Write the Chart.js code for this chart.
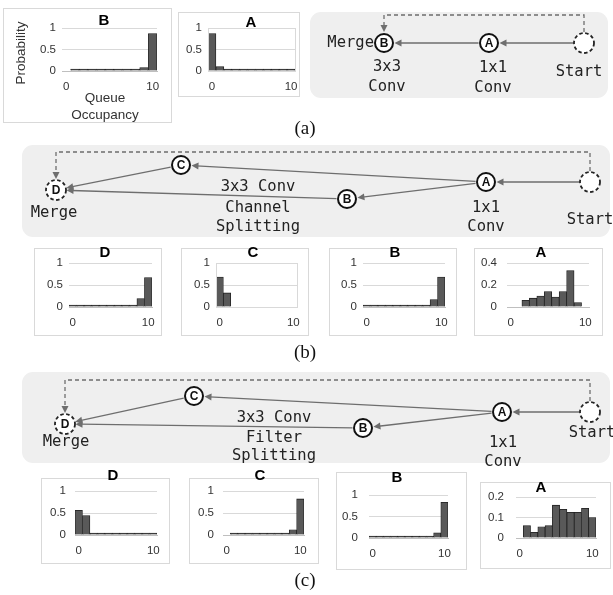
<!DOCTYPE html>
<html>
<head>
<meta charset="utf-8">
<script src="https://cdn.jsdelivr.net/npm/chart.js@4.4.1/dist/chart.umd.min.js"></script>
<style>
  body { margin: 0; background: #fff; }
  #fig { position: relative; width: 613px; height: 595px; overflow: hidden; background: #fff; }
  .box { position: absolute; border: 1px solid #d9d9d9; box-sizing: border-box; background: #fff; }
  .flow { position: absolute; background: #efefef; border-radius: 11px; }
  canvas { position: absolute; }
  .cap { position: absolute; font-family: "Liberation Serif", serif; font-size: 19px; color: #111;
         transform: translate(-50%, -50%); }
</style>
</head>
<body>
<div id="fig"></div>
<script>
// queue occupancy bins (x tick labels)
const bins = ['0', '1', '2', '3', '4', '5', '6', '7', '8', '9', '10'];

// probability per bin (null = empty bin)
const a_B = [null, 0.006, 0.006, 0.006, 0.006, 0.006, 0.006, 0.006, 0.006, 0.08, 0.87];
const a_A = [0.87, 0.10, 0.02, 0.003, 0.003, 0.003, 0.003, 0.003, 0.003, 0.003, 0.003];
const b_D = [0.005, 0.02, 0.02, 0.02, 0.005, 0.02, 0.02, 0.02, 0.02, 0.19, 0.67];
const b_C = [0.68, 0.32, null, null, null, null, null, null, null, null, null];
const b_B = [0.01, 0.015, 0.015, 0.015, 0.015, 0.015, 0.015, 0.015, 0.015, 0.17, 0.68];
const b_A = [null, null, 0.06, 0.08, 0.10, 0.14, 0.09, 0.14, 0.33, 0.04, null];
const c_D = [0.56, 0.44, 0.03, 0.003, 0.003, 0.003, 0.003, 0.003, 0.003, 0.003, 0.003];
const c_C = [null, 0.02, 0.02, 0.02, 0.02, 0.02, 0.02, 0.02, 0.02, 0.12, 0.82];
const c_B = [0.01, 0.01, 0.01, 0.01, 0.01, 0.01, 0.01, 0.01, 0.01, 0.12, 0.83];
const c_A = [null, 0.06, 0.028, 0.055, 0.06, 0.16, 0.14, 0.125, 0.125, 0.145, 0.10];

const fig = document.getElementById('fig');
const E = 8;

// text drawn in page coordinates
const panelText = {
  id: 'panelText',
  afterDraw(chart, args, opts) {
    const ctx = chart.ctx;
    (opts.items || []).forEach(it => {
      ctx.save();
      ctx.font = it.font;
      ctx.fillStyle = it.color || '#000';
      ctx.textAlign = it.align || 'center';
      ctx.textBaseline = 'middle';
      ctx.translate(it.x - opts.ox, it.y - opts.oy);
      if (it.rot) ctx.rotate(it.rot * Math.PI / 180);
      ctx.fillText(it.text, 0, 0);
      ctx.restore();
    });
  }
};

const plotFrame = {
  id: 'plotFrame',
  afterDraw(chart, args, opts) {
    if (!opts.on) return;
    const a = chart.chartArea, ctx = chart.ctx;
    ctx.save();
    ctx.strokeStyle = '#d9d9d9';
    ctx.lineWidth = 1;
    ctx.strokeRect(Math.round(a.left) + 0.5, Math.round(a.top) + 0.5, Math.round(a.right - a.left), Math.round(a.bottom - a.top));
    ctx.restore();
  }
};

function addCanvas(l, t, w, h) {
  const c = document.createElement('canvas');
  c.width = w; c.height = h;
  c.style.left = l + 'px'; c.style.top = t + 'px';
  c.style.width = w + 'px'; c.style.height = h + 'px';
  fig.appendChild(c);
  return c;
}

function histo(p) {
  const [bl, bt, bw, bh] = p.box;
  const d = document.createElement('div');
  d.className = 'box';
  Object.assign(d.style, { left: bl + 'px', top: bt + 'px', width: bw + 'px', height: bh + 'px' });
  fig.appendChild(d);

  const cl = bl - E, ct = bt - E, cw = bw + 2 * E, ch = bh + 2 * E;
  const c = addCanvas(cl, ct, cw, ch);
  const [L, T, R, B] = p.area;
  const YW = 40, XH = 24;
  const items = [{ text: p.title[0], x: p.title[1], y: p.title[2], font: 'bold 15px "Liberation Sans"' }];
  (p.extra || []).forEach(e => items.push({ text: e[0], x: e[1], y: e[2], rot: e[3] || 0,
    font: '13.5px "Liberation Sans"', color: '#333' }));

  new Chart(c, {
    type: 'bar',
    data: {
      labels: bins,
      datasets: [{
        data: p.data,
        backgroundColor: '#595959',
        borderColor: '#1e1e1e',
        borderWidth: 0.8,
        barPercentage: 1,
        categoryPercentage: 1,
        minBarLength: 2
      }]
    },
    options: {
      responsive: false,
      animation: false,
      events: [],
      layout: { padding: { left: L - cl - YW, top: T - ct, right: cl + cw - R, bottom: ct + ch - B - XH } },
      plugins: {
        legend: { display: false },
        tooltip: { enabled: false },
        panelText: { items: items, ox: cl, oy: ct },
        plotFrame: { on: !!p.frame }
      },
      scales: {
        x: {
          grid: { display: false, drawTicks: false },
          border: { display: true, color: '#bfbfbf' },
          ticks: {
            autoSkip: false, maxRotation: 0, padding: 9, color: '#333',
            font: { family: '"Liberation Sans"', size: 11.5 },
            callback: (v, i) => (i === 0 || i === bins.length - 1) ? bins[i] : ''
          },
          afterFit: s => { s.height = XH; }
        },
        y: {
          min: 0, max: p.yMax,
          grid: { color: g => g.tick.value === 0 ? 'rgba(0,0,0,0)' : '#d9d9d9', drawTicks: false },
          border: { display: false },
          ticks: {
            stepSize: p.step, padding: p.gap, color: '#333',
            font: { family: '"Liberation Sans"', size: 11.5 },
            callback: v => String(Math.round(v * 100) / 100)
          },
          afterFit: s => { s.width = YW; }
        }
      }
    },
    plugins: [panelText, plotFrame]
  });
}

const panels = [
  { data: a_B, box: [3, 8, 169, 115], area: [62, 28, 157, 71], yMax: 1, step: 0.5, gap: 6, title: ['B', 104, 21],
    extra: [['Probability', 21, 53, -90], ['Queue', 105, 98], ['Occupancy', 105, 115]] },
  { data: a_A, box: [178, 12, 122, 85], area: [208, 28, 295, 71], yMax: 1, step: 0.5, gap: 6, title: ['A', 251, 23], frame: true },
  { data: b_D, box: [34, 248, 128, 88], area: [69, 263, 152, 307], yMax: 1, step: 0.5, gap: 6, title: ['D', 105, 253] },
  { data: b_C, box: [181, 248, 128, 88], area: [216, 263, 297, 307], yMax: 1, step: 0.5, gap: 6, title: ['C', 253, 253], frame: true },
  { data: b_B, box: [329, 248, 128, 88], area: [363, 263, 445, 307], yMax: 1, step: 0.5, gap: 6, title: ['B', 395, 253] },
  { data: b_A, box: [474, 248, 129, 88], area: [507, 263, 589, 307], yMax: 0.4, step: 0.2, gap: 10, title: ['A', 541, 253] },
  { data: c_D, box: [41, 478, 129, 86], area: [75, 491, 157, 535], yMax: 1, step: 0.5, gap: 9, title: ['D', 113, 476] },
  { data: c_C, box: [189, 478, 130, 86], area: [223, 491, 304, 535], yMax: 1, step: 0.5, gap: 9, title: ['C', 260, 476] },
  { data: c_B, box: [336, 472, 131, 98], area: [369, 495, 448, 538], yMax: 1, step: 0.5, gap: 11, title: ['B', 397, 478] },
  { data: c_A, box: [480, 482, 131, 87], area: [516, 497, 596, 538], yMax: 0.2, step: 0.1, gap: 12, title: ['A', 541, 488] }
];
panels.forEach(histo);

// ---- flow graphs ----
const EDGE = '#6e6e6e';
const flowDraw = {
  id: 'flowDraw',
  beforeDatasetsDraw(chart, args, f) {
    const ctx = chart.ctx, sx = chart.scales.x, sy = chart.scales.y;
    const P = k => [sx.getPixelForValue(f.nodes[k][0]), sy.getPixelForValue(f.nodes[k][1])];
    ctx.save();
    ctx.strokeStyle = EDGE; ctx.fillStyle = EDGE; ctx.lineWidth = 1.3;
    f.edges.forEach(([a, b]) => {
      const [x1, y1] = P(a), [x2, y2] = P(b);
      const dx = x2 - x1, dy = y2 - y1, len = Math.hypot(dx, dy), ux = dx / len, uy = dy / len;
      const r = 10.5, ah = 7, aw = 3.5;
      const ex = x2 - ux * r, ey = y2 - uy * r;
      ctx.beginPath();
      ctx.moveTo(x1 + ux * r, y1 + uy * r);
      ctx.lineTo(ex - ux * ah * 0.7, ey - uy * ah * 0.7);
      ctx.stroke();
      ctx.beginPath();
      ctx.moveTo(ex, ey);
      ctx.lineTo(ex - ux * ah - uy * aw, ey - uy * ah + ux * aw);
      ctx.lineTo(ex - ux * ah + uy * aw, ey - uy * ah - ux * aw);
      ctx.closePath(); ctx.fill();
    });
    // dashed feedback path
    const [s, m, top] = f.loop;
    const [x1, y1] = P(s), [x2, y2] = P(m), ty = sy.getPixelForValue(top);
    ctx.setLineDash([4, 3]);
    ctx.beginPath();
    ctx.moveTo(x1, y1 - 11);
    ctx.lineTo(x1, ty); ctx.lineTo(x2, ty); ctx.lineTo(x2, y2 - 17);
    ctx.stroke();
    ctx.setLineDash([]);
    ctx.beginPath();
    ctx.moveTo(x2, y2 - 11);
    ctx.lineTo(x2 - 3.5, y2 - 18); ctx.lineTo(x2 + 3.5, y2 - 18);
    ctx.closePath(); ctx.fill();
    ctx.restore();
  },
  afterDatasetsDraw(chart, args, f) {
    const ctx = chart.ctx, sx = chart.scales.x, sy = chart.scales.y;
    ctx.save();
    Object.keys(f.nodes).forEach(k => {
      const n = f.nodes[k];
      const x = sx.getPixelForValue(n[0]), y = sy.getPixelForValue(n[1]);
      if (n[3]) {
        ctx.beginPath();
        ctx.arc(x, y, 10, 0, Math.PI * 2);
        ctx.fillStyle = '#fff'; ctx.fill();
        ctx.setLineDash([3.5, 2.5]);
        ctx.strokeStyle = '#222'; ctx.lineWidth = 1.8; ctx.stroke();
        ctx.setLineDash([]);
      }
      if (n[2]) {
        ctx.fillStyle = '#111';
        ctx.font = 'bold 12px "Liberation Sans"';
        ctx.textAlign = 'center'; ctx.textBaseline = 'middle';
        ctx.fillText(n[2], x, y + 0.5);
      }
    });
    ctx.font = '15.5px "DejaVu Sans Mono"';
    ctx.fillStyle = '#222';
    ctx.textBaseline = 'middle';
    f.labels.forEach(l => {
      ctx.textAlign = l[3] || 'center';
      ctx.fillText(l[0], sx.getPixelForValue(l[1]), sy.getPixelForValue(l[2]));
    });
    ctx.restore();
  }
};

const flows = [
  { box: [310, 12, 298, 86],
    nodes: { Start: [584, 43, '', true], A: [489, 43, 'A'], B: [384, 43, 'B'] },
    edges: [['Start', 'A'], ['A', 'B']],
    loop: ['Start', 'B', 15],
    labels: [['Merge', 374, 43, 'right'], ['3x3', 387, 67], ['Conv', 387, 87], ['1x1', 493, 68], ['Conv', 493, 88], ['Start', 579, 72]] },
  { box: [22, 145, 588, 92],
    nodes: { Start: [590, 182, '', true], A: [486, 182, 'A'], B: [347, 199, 'B'], C: [181, 165, 'C'], D: [56, 190, 'D', true] },
    edges: [['Start', 'A'], ['A', 'C'], ['A', 'B'], ['C', 'D'], ['B', 'D']],
    loop: ['Start', 'D', 152],
    labels: [['3x3 Conv', 258, 187], ['Channel', 258, 208], ['Splitting', 258, 227], ['Merge', 54, 213],
             ['1x1', 486, 208], ['Conv', 486, 227], ['Start', 590, 220]] },
  { box: [22, 372, 588, 91],
    nodes: { Start: [590, 412, '', true], A: [502, 412, 'A'], B: [363, 428, 'B'], C: [194, 396, 'C'], D: [65, 424, 'D', true] },
    edges: [['Start', 'A'], ['A', 'C'], ['A', 'B'], ['C', 'D'], ['B', 'D']],
    loop: ['Start', 'D', 380],
    labels: [['3x3 Conv', 274, 418], ['Filter', 274, 438], ['Splitting', 274, 456], ['Merge', 66, 442],
             ['1x1', 503, 443], ['Conv', 503, 462], ['Start', 592, 433]] }
];

flows.forEach(f => {
  const [bl, bt, bw, bh] = f.box;
  const d = document.createElement('div');
  d.className = 'flow';
  Object.assign(d.style, { left: bl + 'px', top: bt + 'px', width: bw + 'px', height: bh + 'px' });
  fig.appendChild(d);
  const cl = bl - E, ct = bt - E, cw = bw + 2 * E, ch = bh + 2 * E;
  const c = addCanvas(cl, ct, cw, ch);
  const keys = Object.keys(f.nodes);
  new Chart(c, {
    type: 'scatter',
    data: {
      datasets: [{
        data: keys.map(k => ({ x: f.nodes[k][0], y: f.nodes[k][1] })),
        pointRadius: keys.map(k => f.nodes[k][3] ? 0 : 9),
        pointBackgroundColor: '#fff',
        pointBorderColor: '#111',
        pointBorderWidth: 2,
        clip: false
      }]
    },
    options: {
      responsive: false, animation: false, events: [],
      layout: { padding: 0, autoPadding: false },
      plugins: { legend: { display: false }, tooltip: { enabled: false }, flowDraw: f },
      scales: {
        x: { type: 'linear', min: cl, max: cl + cw, display: false },
        y: { type: 'linear', min: ct, max: ct + ch, reverse: true, display: false }
      }
    },
    plugins: [flowDraw]
  });
});

// sub-figure captions
[['(a)', 305, 128], ['(b)', 305, 352], ['(c)', 305, 580]].forEach(([t, x, y]) => {
  const s = document.createElement('div');
  s.className = 'cap';
  s.textContent = t;
  s.style.left = x + 'px'; s.style.top = y + 'px';
  fig.appendChild(s);
});
</script>
</body>
</html>
